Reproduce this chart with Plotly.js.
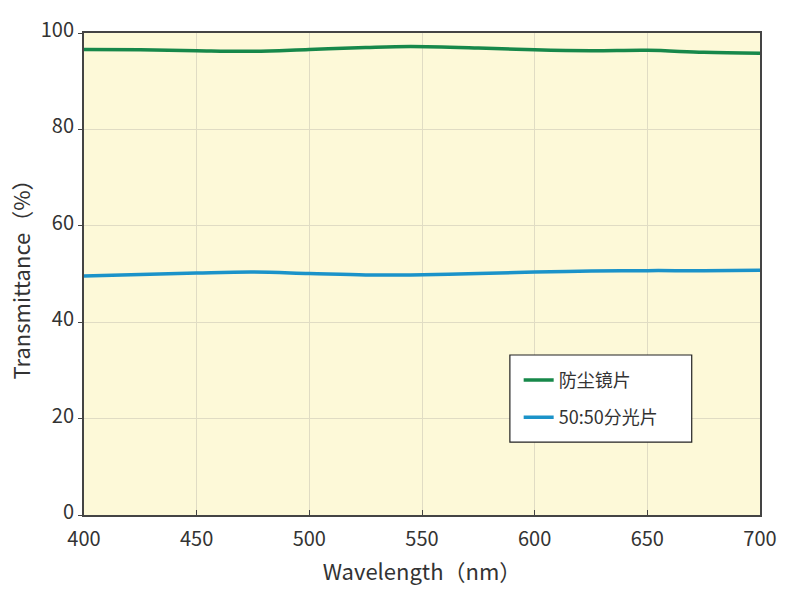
<!DOCTYPE html>
<html><head><meta charset="utf-8">
<script src="https://cdn.plot.ly/plotly-3.0.1.min.js"></script>
<style>body{margin:0;background:#fff}#c{width:800px;height:600px}</style>
</head><body><div id="c"></div>
<script>
const wavelength = [400, 425, 450, 475, 500, 525, 545, 575, 600, 625, 650, 675, 700];
const dustGlass = [96.6, 96.5, 96.3, 96.2, 96.6, 97.0, 97.2, 96.9, 96.5, 96.3, 96.4, 96.0, 95.8];
const splitter = [49.6, 49.9, 50.2, 50.4, 50.1, 49.8, 49.8, 50.1, 50.4, 50.6, 50.7, 50.7, 50.8];
const names = ['防尘镜片', '50:50分光片'];
const font = 'Noto Sans CJK SC, Noto Sans, sans-serif';
Plotly.newPlot('c', [
  {x: wavelength, y: dustGlass, name: names[0], legendgroup: 'a', mode: 'lines', line: {color: '#17884a', width: 3.5, shape: 'spline'}},
  {x: wavelength, y: splitter, name: names[1], legendgroup: 'b', mode: 'lines', line: {color: '#1b93c9', width: 3.5, shape: 'spline'}}
], {
  width: 800, height: 600,
  paper_bgcolor: '#ffffff', plot_bgcolor: '#fdf9d8',
  margin: {l: 84, r: 40, t: 33, b: 85},
  font: {family: font, size: 20, color: '#333'},
  showlegend: true,
  legend: {x: 0.643, y: 0.318, xanchor: 'left', yanchor: 'top', bgcolor: 'rgba(0,0,0,0)', borderwidth: 0,
    font: {size: 18, color: '#333'}, tracegroupgap: 11, itemwidth: 30},
  shapes: [{type: 'rect', xref: 'paper', yref: 'paper', x0: 0.630, x1: 0.899, y0: 0.151, y1: 0.332,
    fillcolor: '#ffffff', line: {color: '#222', width: 1.2}, layer: 'above'}],
  xaxis: {range: [400, 700], dtick: 50, tick0: 400, showline: true, linecolor: '#444', linewidth: 2, mirror: true,
    ticks: 'inside', ticklen: 5, tickcolor: '#444', showgrid: true, gridcolor: '#e0dcc4', zeroline: false,
    ticklabelstandoff: 5,
    title: {text: 'Wavelength（nm）', font: {size: 22, color: '#333'}, standoff: 14}, tickfont: {size: 20}},
  yaxis: {range: [0, 100], dtick: 20, showline: true, linecolor: '#444', linewidth: 2, mirror: true,
    ticks: 'outside', ticklen: 4, tickcolor: '#444', showgrid: true, gridcolor: '#e0dcc4', zeroline: false,
    ticklabelshift: -3,
    title: {text: 'Transmittance（%）', font: {size: 22, color: '#333'}, standoff: 4}, tickfont: {size: 20}}
}, {displayModeBar: false});
</script></body></html>
